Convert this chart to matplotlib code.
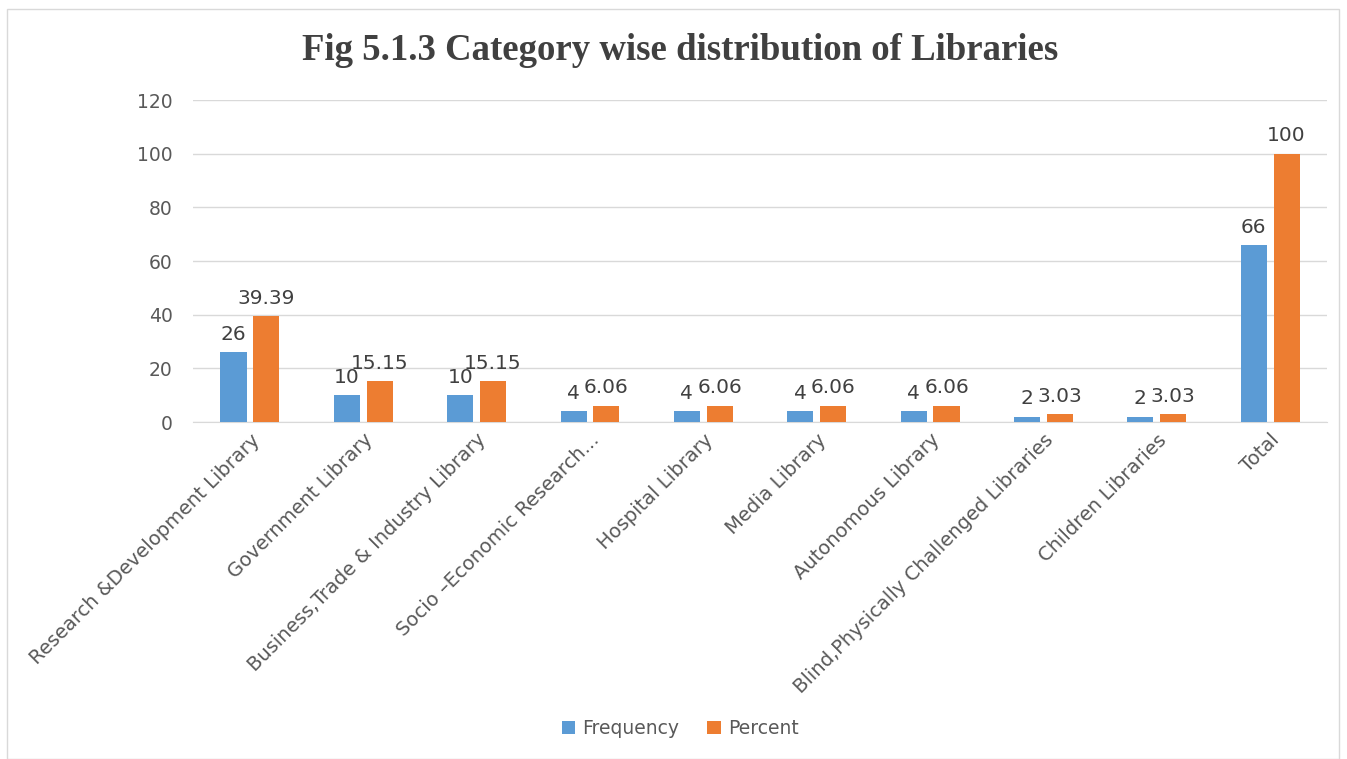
import numpy as np
import matplotlib.pyplot as plt
from matplotlib.patches import Rectangle

categories = [
    "Research &Development Library",
    "Government Library",
    "Business,Trade & Industry Library",
    "Socio \u2013Economic Research...",
    "Hospital Library",
    "Media Library",
    "Autonomous Library",
    "Blind,Physically Challenged Libraries",
    "Children Libraries",
    "Total",
]
frequency = [26, 10, 10, 4, 4, 4, 4, 2, 2, 66]
percent = [39.39, 15.15, 15.15, 6.06, 6.06, 6.06, 6.06, 3.03, 3.03, 100]
freq_labels = ["26", "10", "10", "4", "4", "4", "4", "2", "2", "66"]
pct_labels = ["39.39", "15.15", "15.15", "6.06", "6.06", "6.06", "6.06", "3.03", "3.03", "100"]

blue = "#5B9BD5"
orange = "#ED7D31"
grey_txt = "#595959"

fig = plt.figure(figsize=(13.47, 7.59), dpi=100)
ax = fig.add_axes([0.1435, 0.444, 0.8415, 0.424])

x = np.arange(len(categories))
w = 0.23
off = 0.145
b1 = ax.bar(x - off, frequency, w, color=blue, label="Frequency", zorder=3)
b2 = ax.bar(x + off, percent, w, color=orange, label="Percent", zorder=3)

for rect, lab in zip(b1, freq_labels):
    ax.annotate(lab, (rect.get_x() + rect.get_width() / 2, rect.get_height()),
                xytext=(0, 6), textcoords="offset points", ha="center", va="bottom",
                fontsize=14.5, color="#404040")
for rect, lab in zip(b2, pct_labels):
    ax.annotate(lab, (rect.get_x() + rect.get_width() / 2, rect.get_height()),
                xytext=(0, 6), textcoords="offset points", ha="center", va="bottom",
                fontsize=14.5, color="#404040")

ax.set_xlim(-0.5, len(categories) - 0.5)
ax.set_ylim(0, 120)
ax.set_yticks(range(0, 121, 20))
ax.grid(axis="y", color="#D9D9D9", linewidth=1, zorder=0)
for s in ["top", "right", "left"]:
    ax.spines[s].set_visible(False)
ax.spines["bottom"].set_color("#D9D9D9")
ax.tick_params(axis="y", length=0, pad=15, labelsize=13.5, labelcolor=grey_txt)
ax.tick_params(axis="x", length=0, pad=6)
ax.set_xticks(x)
ax.set_xticklabels(categories, rotation=45, ha="right", rotation_mode="anchor",
                   fontsize=14, color=grey_txt)

fig.text(0.505, 0.933, "Fig 5.1.3 Category wise distribution of Libraries",
         ha="center", va="center", family="Liberation Serif", fontweight="bold",
         fontsize=26.5, color="#404040")

fig.legend(handles=[b1, b2], loc="center", bbox_to_anchor=(0.505, 0.04), ncol=2,
           frameon=False, fontsize=13.5, handlelength=0.7, handleheight=0.7,
           columnspacing=1.5, handletextpad=0.4, labelcolor=grey_txt)

# light frame around the chart area
fig.patches.append(Rectangle((7 / 1347, 0), 1332 / 1347, 750 / 759,
                             transform=fig.transFigure, fill=False,
                             edgecolor="#D9D9D9", linewidth=1))

fig.savefig("out.png", dpi=100)
